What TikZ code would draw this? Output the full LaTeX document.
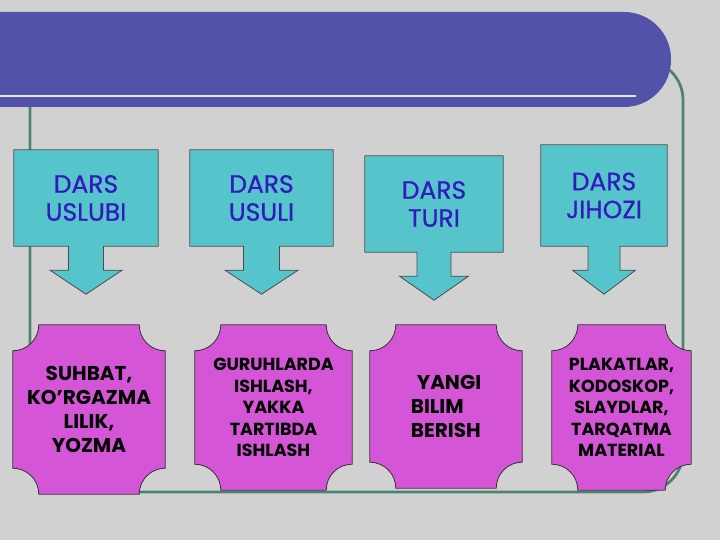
\documentclass[tikz,border=0pt]{standalone}
\usepackage{fontspec}
\setmainfont{Poppins}
\newfontfamily\topicfont{Poppins}[BoldFont=Poppins, BoldFeatures={FakeBold=0.7}]
\usepackage{tikz}
\usetikzlibrary{backgrounds,calc}
\definecolor{slidegray}{RGB}{209,209,209}
\definecolor{bannerblue}{RGB}{82,82,168}
\definecolor{framegreen}{RGB}{78,130,114}
\definecolor{boxcyan}{RGB}{86,197,203}
\definecolor{boxmagenta}{RGB}{212,86,214}
\definecolor{textblue}{RGB}{52,26,190}
\tikzstyle{topic} = [minimum height=96, align=center, text=textblue, font=\topicfont\bfseries\fontsize{25}{28}\selectfont]
\tikzstyle{item} = [minimum height=165, align=center, text=black, font=\bfseries\fontsize{20}{24}\selectfont]
\tikzstyle{smallitem} = [item, font=\bfseries\fontsize{17.5}{21.5}\selectfont]
\tikzstyle{topicshape} = [fill=boxcyan, draw=black!70, line width=0.8pt]
\tikzstyle{itemshape} = [fill=boxmagenta, draw=black!80, line width=0.8pt]
\tikzstyle{frameline} = [draw=framegreen, line width=2.8pt, rounded corners=40]

% box with a down arrow under it: node, shaft half width, head half width
\newcommand{\droparrow}[3]{%
  \filldraw[topicshape] ($(#1.south)+(#2,0)$) -- (#1.south east) -- (#1.north east)
    -- (#1.north west) -- (#1.south west) -- ($(#1.south)+(-#2,0)$)
    -- ($(#1.south)+(-#2,-24)$) -- ($(#1.south)+(-#3,-24)$) -- ($(#1.south)+(0,-48)$)
    -- ($(#1.south)+(#3,-24)$) -- ($(#1.south)+(#2,-24)$) -- cycle;}
% plaque with concave corners round a node
\newcommand{\plaque}[1]{%
  \filldraw[itemshape] ($(#1.north west)+(26,0)$) -- ($(#1.north east)+(-26,0)$)
    arc[start angle=180, end angle=270, radius=26pt] -- ($(#1.south east)+(0,26)$)
    arc[start angle=90, end angle=180, radius=26pt] -- ($(#1.south west)+(26,0)$)
    arc[start angle=0, end angle=90, radius=26pt] -- ($(#1.north west)+(0,-26)$)
    arc[start angle=270, end angle=360, radius=26pt] -- cycle;}

\begin{document}
\begin{tikzpicture}[x=1pt, y=1pt]
\useasboundingbox (0,0) rectangle (720,540);

% Top row
\node (uslubi) [topic, minimum width=144] at (86,342) {DARS\\USLUBI};
\node (usuli) [topic, minimum width=143] at (261.5,342) {DARS\\USULI};
\node (turi) [topic, minimum width=138] at (434,336) {DARS\\TURI};
\node (jihozi) [topic, minimum width=126, minimum height=101] at (604,344.5) {DARS\\JIHOZI};

% Bottom row
\node (suhbat) [item, minimum width=152, minimum height=169] at (89,130.5) {SUHBAT,\\KO'RGAZMA\\LILIK,\\YOZMA};
\node (guruh) [smallitem, minimum width=157] at (273.5,132.5) {GURUHLARDA\\ISHLASH,\\YAKKA\\TARTIBDA\\ISHLASH};
\node (yangi) [item, minimum width=152, minimum height=163, align=left] at (446,133.5) {\hspace{6pt}YANGI\\BILIM\\BERISH};
\node (plakat) [smallitem, minimum width=139] at (621.5,132.5) {PLAKATLAR,\\KODOSKOP,\\SLAYDLAR,\\TARQATMA\\MATERIAL};

\begin{scope}[on background layer]
\fill[slidegray] (0,0) rectangle (720,540);
\draw[frameline] (30,440) -- (30,48) -- (683,48) -- (683,480) -- (560,480);
\fill[bannerblue, rounded corners=47] (-60,433) rectangle (671,528);
\draw[white!85!bannerblue, line width=2pt] (0,444) -- (636,444);

\droparrow{uslubi}{17.5}{36}
\droparrow{usuli}{18}{36.5}
\droparrow{turi}{17}{34.5}
\droparrow{jihozi}{16}{31.5}

\plaque{suhbat}
\plaque{guruh}
\plaque{yangi}
\plaque{plakat}
\end{scope}
\end{tikzpicture}
\end{document}
